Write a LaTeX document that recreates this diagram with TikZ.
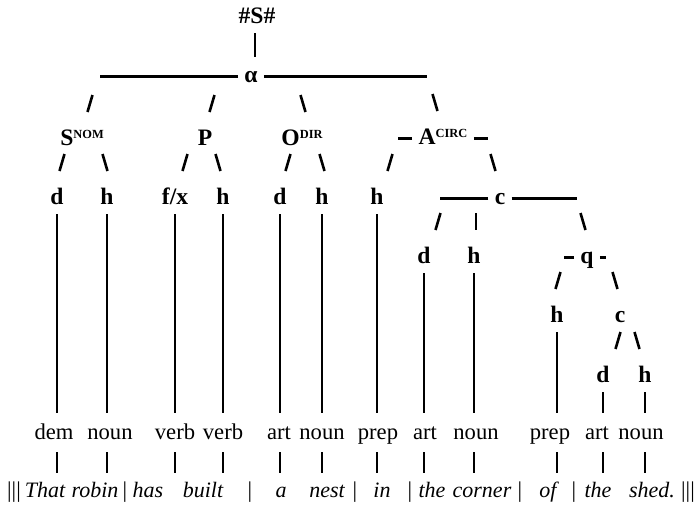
\documentclass[tikz,border=0pt]{standalone}
\usepackage{fontspec}
\setmainfont{Liberation Serif}
\usepackage{tikz}
\newcommand\sz{\fontsize{11.3}{13.5}\selectfont}
\newcommand\szb{\fontsize{11.8}{14}\selectfont}
\newcommand\szi{\fontsize{11}{13}\selectfont}
\newcommand\supcap[1]{\raisebox{3.5pt}{\fontsize{6.2}{6.2}\selectfont #1}}

\begin{document}
\begin{tikzpicture}[x=0.5pt, y=-0.5pt,
    lab/.style={font=\szb\bfseries, anchor=base, inner sep=1pt, text height=7.5pt, text depth=2pt},
    cls/.style={lab, font=\sz},
    wrd/.style={lab, font=\szi\itshape},
    bar/.style={lab, font=\sz},
    branch/.style={line width=1.3pt},
    rule/.style={line width=1.1pt, shorten <=2pt},
    stem/.style={line width=1.1pt, shorten <=2pt, shorten >=4.5pt},
    tick/.style={line width=0.8pt, shorten <=3.5pt, shorten >=3.5pt}]
    \useasboundingbox (0,0) rectangle (698,510);

    % Gốc và alpha
    \node[lab] (root) at (257,23) {\#S\#};
    \node[lab] (alpha) at (251,82) {α};
    \draw[branch, line width=1pt, shorten <=2pt, shorten >=4pt] ([xshift=-1pt]root.south) -- ([xshift=-1pt]root.south |- alpha.north);

    % Các thành phần câu
    \node[lab] (snom) at (82,145) {S\supcap{NOM}};
    \node[lab] (pp) at (205,145) {P};
    \node[lab] (odir) at (302,145) {O\supcap{DIR}};
    \node[lab] (acirc) at (443,144) {A\supcap{CIRC}};

    % Tầng d / h
    \node[lab] (d1) at (57,204) {d};
    \node[lab] (h1) at (107,204) {h};
    \node[lab] (fx) at (175,204) {f/x};
    \node[lab] (h2) at (223,204) {h};
    \node[lab] (d2) at (280,204) {d};
    \node[lab] (h3) at (322,204) {h};
    \node[lab] (h4) at (377,204) {h};
    \node[lab] (c1) at (500,204) {c};
    \node[lab] (d3) at (424,263) {d};
    \node[lab] (h5) at (474,263) {h};
    \node[lab] (qq) at (587,263) {q};
    \node[lab] (h6) at (557,322) {h};
    \node[lab] (c2) at (620,322) {c};
    \node[lab] (d4) at (603,382) {d};
    \node[lab] (h7) at (645,382) {h};

    % Các đường ngang
    \coordinate (aL) at (100,0);
    \coordinate (aR) at (427,0);
    \coordinate (acL) at (398,0);
    \coordinate (acR) at (488,0);
    \coordinate (cL) at (440,0);
    \coordinate (cR) at (577,0);
    \coordinate (qL) at (564,0);
    \coordinate (qR) at (606,0);
    \foreach \n/\l/\r in {alpha/aL/aR, acirc/acL/acR, c1/cL/cR, qq/qL/qR} {
        \draw[rule] (\n.west) -- (\n.west -| \l);
        \draw[rule] (\n.east) -- (\n.east -| \r);
    }

    % Các nhánh / và \
    \foreach \n/\dx/\sg in {snom/8/1, pp/7/1, odir/1/-1, acirc/-8/-1,
        d1/5/1, h1/-2/-1, fx/10/1, h2/-5/-1, d2/8/1, h3/0/-1, h4/13/1, c1/-7/-1,
        d3/14/1, h5/2/0, qq/-4/-1, h6/1/1, c2/-5/-1, d4/15/1, h7/-8/-1}
        \draw[branch] ([shift={({\dx+2.5*(\sg)},-50)}]\n.base) -- ([shift={({\dx-2.5*(\sg)},-33)}]\n.base);

    % Từ loại và câu
    \foreach \t/\x [count=\i] in {dem/54, noun/110, verb/175, verb/223, art/279, noun/322,
        prep/378, art/425, noun/476, prep/550, art/597, noun/641}
        \node[cls] (w\i) at (\x,439) {\t};
    \foreach \t/\x [count=\i] in {That/45, robin/95, has/148, built/203, a/281, nest/327,
        in/382, the/432, corner/482, of/548, the/598, shed./652}
        \node[wrd] (s\i) at (\x,497) {\t};
    \foreach \x/\t [count=\i] in {14/{|||}, 125/|, 250/|, 355/|, 410/|, 520/|, 574/|, 688/{|||}}
        \node[bar] (b\i) at (\x,497) {\t};

    % Các đường dọc
    \foreach \u [count=\i] in {d1,h1,fx,h2,d2,h3,h4,d3,h5,h6,d4,h7} {
        \draw[stem] (\u) -- (\u |- w\i.north);
        \draw[tick] (\u |- w\i.south) -- (\u |- s\i.north);
    }
\end{tikzpicture}
\end{document}
